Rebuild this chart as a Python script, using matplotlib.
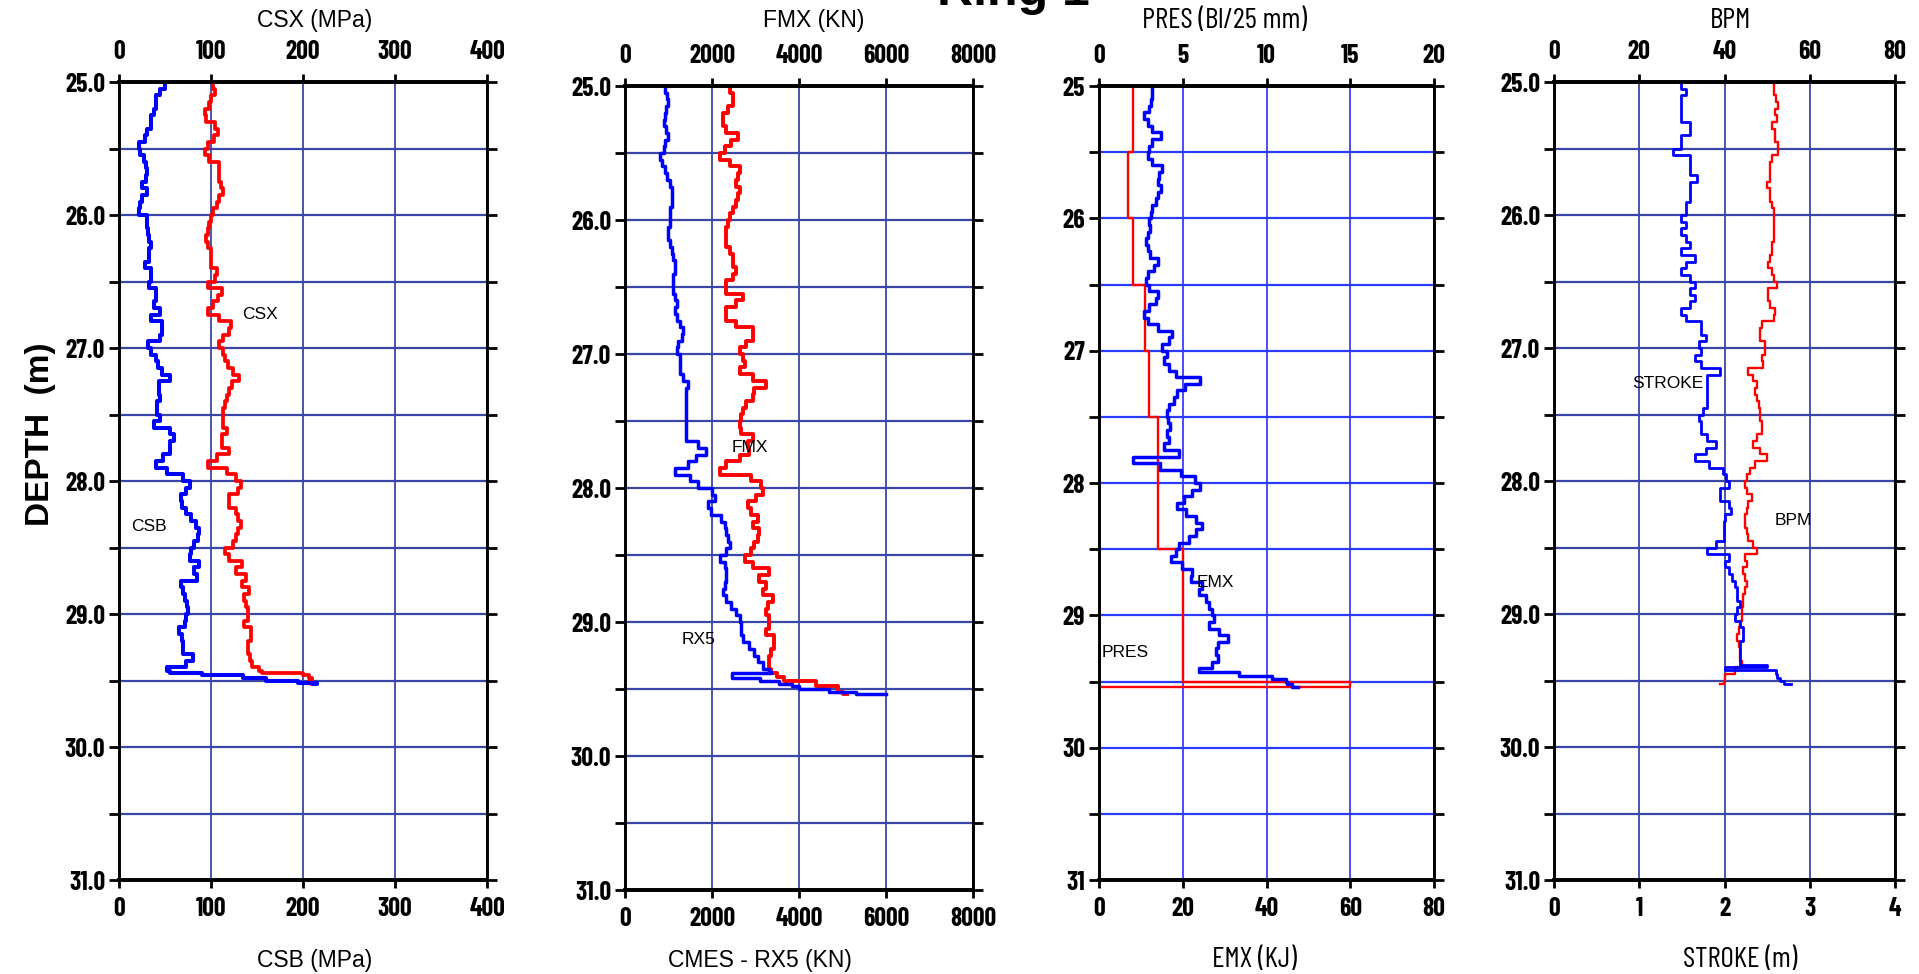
import matplotlib
matplotlib.use("Agg")
import matplotlib.pyplot as plt
from matplotlib import font_manager as fm
import numpy as np

# ---------------- data ----------------
DEPTH_REG = [25.00, 25.05, 25.10, 25.15, 25.20, 25.25, 25.30, 25.35, 25.40, 25.45,
             25.50, 25.55, 25.60, 25.65, 25.70, 25.75, 25.80, 25.85, 25.90, 25.95,
             26.00, 26.05, 26.10, 26.15, 26.20, 26.25, 26.30, 26.35, 26.40, 26.45,
             26.50, 26.55, 26.60, 26.65, 26.70, 26.75, 26.80, 26.85, 26.90, 26.95,
             27.00, 27.05, 27.10, 27.15, 27.20, 27.25, 27.30, 27.35, 27.40, 27.45,
             27.50, 27.55, 27.60, 27.65, 27.70, 27.75, 27.80, 27.85, 27.90, 27.95,
             28.00, 28.05, 28.10, 28.15, 28.20, 28.25, 28.30, 28.35, 28.40, 28.45,
             28.50, 28.55, 28.60, 28.65, 28.70, 28.75, 28.80, 28.85, 28.90, 28.95,
             29.00, 29.05, 29.10, 29.15, 29.20, 29.25, 29.30, 29.35]

# Panel 1: CSB (blue, bottom axis) and CSX (red, top axis), MPa
CSB = [50, 45, 40, 40, 38, 35, 35, 30, 28, 22,
       23, 27, 29, 30, 29, 25, 30, 25, 23, 22,
       30, 30, 32, 33, 35, 33, 33, 28, 35, 35,
       33, 40, 40, 38, 45, 35, 47, 47, 45, 32,
       35, 40, 42, 47, 55, 43, 43, 45, 41, 41,
       45, 38, 55, 60, 55, 55, 48, 40, 52, 70,
       77, 73, 67, 68, 73, 78, 84, 87, 86, 81,
       78, 77, 87, 81, 85, 67, 70, 72, 74, 75,
       73, 72, 65, 68, 70, 70, 80, 73]
CSB_TAIL_D = [29.40, 29.43, 29.44, 29.46, 29.48, 29.50, 29.52, 29.53]
CSB_TAIL = [52, 55, 90, 135, 160, 195, 215, 212]

CSX = [102, 104, 100, 98, 93, 95, 104, 108, 103, 97,
       93, 98, 109, 109, 109, 111, 113, 109, 106, 102,
       100, 98, 97, 95, 97, 100, 100, 100, 106, 104,
       97, 112, 108, 102, 97, 109, 122, 120, 113, 109,
       113, 115, 118, 124, 130, 123, 120, 117, 115, 113,
       113, 113, 117, 112, 112, 120, 106, 97, 117, 127,
       133, 129, 120, 120, 127, 129, 133, 129, 127, 124,
       115, 120, 134, 127, 138, 134, 141, 136, 138, 140,
       140, 136, 143, 143, 140, 140, 142, 145]
CSX_TAIL_D = [29.40, 29.43, 29.44, 29.46, 29.48, 29.50, 29.52, 29.53]
CSX_TAIL = [152, 155, 200, 206, 210, 206, 213, 210]

# Panel 2: RX5 (blue, bottom axis) and FMX (red, top axis), KN
RX5 = [930, 955, 990, 940, 915, 890, 940, 990, 915, 890,
       800, 840, 915, 955, 1030, 1070, 1070, 1070, 1045, 1030,
       1030, 990, 990, 1030, 1070, 1110, 1145, 1145, 1110, 1110,
       1110, 1145, 1185, 1145, 1185, 1260, 1335, 1300, 1220, 1185,
       1260, 1260, 1275, 1335, 1450, 1410, 1395, 1410, 1410, 1395,
       1395, 1395, 1410, 1680, 1870, 1640, 1450, 1145, 1490, 1680,
       2000, 2060, 1910, 1985, 2215, 2290, 2330, 2365, 2405, 2330,
       2175, 2290, 2330, 2330, 2290, 2250, 2330, 2445, 2560, 2635,
       2675, 2675, 2710, 2860, 2975, 3055, 3170, 3320]
RX5_TAIL_D = [29.37, 29.38, 29.40, 29.42, 29.44, 29.46, 29.48, 29.50, 29.52, 29.54]
RX5_TAIL = [3350, 2450, 2450, 3100, 3550, 3850, 4000, 4700, 5300, 6000]

FMX = [2405, 2480, 2480, 2365, 2250, 2250, 2330, 2595, 2445, 2290,
       2175, 2405, 2635, 2595, 2560, 2635, 2595, 2560, 2480, 2405,
       2365, 2330, 2330, 2330, 2405, 2480, 2480, 2560, 2480, 2330,
       2330, 2710, 2560, 2330, 2330, 2560, 2940, 2940, 2785, 2635,
       2710, 2750, 2635, 2940, 3245, 2975, 2940, 2785, 2710, 2675,
       2635, 2675, 2940, 2825, 2860, 2635, 2330, 2175, 2900, 3130,
       3170, 3015, 2825, 2900, 3055, 2940, 3090, 3055, 2975, 2900,
       2750, 2940, 3320, 3090, 3245, 3170, 3400, 3285, 3245, 3320,
       3320, 3245, 3435, 3435, 3360, 3320, 3305, 3360]
FMX_TAIL_D = [29.38, 29.41, 29.44, 29.48, 29.52, 29.54]
FMX_TAIL = [3500, 3650, 4400, 4900, 5000, 5100]

# Panel 3: EMX (blue, bottom axis, KJ) and PRES (red, top axis, Bl/25 mm)
EMX = [12.7, 12.7, 12.4, 12.0, 10.8, 11.6, 12.7, 14.7, 12.7, 12.0,
       11.6, 12.7, 15.1, 14.3, 14.0, 14.7, 14.0, 13.5, 12.7, 12.4,
       12.0, 12.2, 11.8, 11.2, 11.6, 12.2, 14.0, 13.2, 11.6, 11.2,
       12.0, 14.0, 13.6, 12.0, 10.8, 11.6, 14.0, 17.5, 16.7, 15.1,
       16.3, 15.5, 16.7, 18.5, 24.0, 20.5, 18.7, 17.9, 16.7, 16.3,
       16.5, 17.0, 16.3, 16.7, 15.5, 19.0, 8.0, 14.5, 19.5, 23.0,
       24.0, 22.3, 20.3, 18.7, 20.7, 23.1, 24.7, 23.1, 21.5, 19.1,
       18.3, 17.1, 19.9, 22.3, 21.9, 24.7, 23.9, 25.5, 26.3, 27.1,
       27.5, 26.3, 28.7, 30.7, 28.3, 27.9, 28.3, 27.1]
EMX_TAIL_D = [29.40, 29.43, 29.46, 29.48, 29.50, 29.52, 29.54]
EMX_TAIL = [23.9, 33.5, 41.4, 44.6, 45.0, 46.0, 47.5]

PRES_D = [25.0, 25.5, 26.0, 26.5, 27.0, 27.5, 28.5, 29.5, 29.54]
PRES = [2.0, 1.75, 2.0, 2.75, 3.0, 3.5, 5.0, 15.0, 0.0]

# Panel 4: STROKE (blue, bottom axis, m) and BPM (red, top axis)
STROKE = [1.49, 1.55, 1.49, 1.49, 1.49, 1.49, 1.60, 1.60, 1.49, 1.49,
          1.40, 1.60, 1.60, 1.60, 1.68, 1.60, 1.60, 1.60, 1.55, 1.55,
          1.49, 1.55, 1.49, 1.55, 1.60, 1.49, 1.65, 1.55, 1.49, 1.60,
          1.65, 1.60, 1.65, 1.60, 1.49, 1.55, 1.72, 1.72, 1.78, 1.70,
          1.72, 1.65, 1.72, 1.95, 1.80, 1.80, 1.80, 1.80, 1.80, 1.75,
          1.70, 1.72, 1.72, 1.80, 1.90, 1.78, 1.65, 1.82, 1.98, 2.02,
          2.05, 1.95, 1.95, 2.05, 2.08, 2.00, 1.99, 1.99, 1.99, 1.90,
          1.80, 2.05, 2.00, 2.05, 2.09, 2.12, 2.15, 2.15, 2.18, 2.15,
          2.12, 2.18, 2.22, 2.22, 2.18, 2.18, 2.18, 2.18]
STROKE_TAIL_D = [29.38, 29.40, 29.42, 29.45, 29.48, 29.50, 29.53]
STROKE_TAIL = [2.50, 2.00, 2.60, 2.62, 2.65, 2.70, 2.78]

BPM = [51.5, 51.5, 52.0, 52.6, 51.9, 52.3, 51.1, 51.9, 51.9, 52.6,
       52.6, 51.1, 50.7, 50.7, 50.7, 49.9, 50.7, 50.7, 51.1, 51.5,
       51.5, 51.5, 51.5, 51.5, 51.1, 51.1, 50.7, 50.3, 51.1, 51.5,
       52.3, 50.3, 50.3, 50.7, 51.9, 51.5, 48.7, 48.4, 48.4, 49.5,
       49.5, 48.7, 49.1, 45.6, 46.8, 47.6, 47.2, 47.6, 48.0, 48.4,
       48.4, 48.7, 48.7, 47.6, 46.8, 48.4, 49.9, 47.2, 46.0, 45.2,
       44.8, 45.2, 46.4, 45.6, 45.2, 44.8, 44.8, 45.2, 45.6, 46.8,
       47.6, 44.8, 45.2, 44.4, 44.8, 45.2, 44.8, 44.4, 44.4, 44.1,
       44.1, 43.7, 43.3, 42.9, 43.3, 43.7, 43.7, 44.1]
BPM_TAIL_D = [29.40, 29.45, 29.50, 29.53]
BPM_TAIL = [42.5, 40.2, 39.8, 39.0]

DEPTH_TICKS = [25, 26, 27, 28, 29, 30, 31]
DEPTH_MINOR = [25.5, 26.5, 27.5, 28.5, 29.5, 30.5]

# ---------------- fonts ----------------
TTF = fm.fontManager.ttflist
names = {f.name for f in TTF}
ARIAL = 'Liberation Sans' if 'Liberation Sans' in names else 'DejaVu Sans'
plt.rcParams['font.family'] = [ARIAL, 'DejaVu Sans']


def _wnum(w):
    if isinstance(w, (int, float)):
        return w
    return {'bold': 700, 'normal': 400, 'regular': 400}.get(str(w).lower(), 400)


NARROW_PREF = ['Liberation Sans Narrow', 'Arial Narrow', 'Barlow Condensed',
               'Fira Sans Condensed', 'Encode Sans Condensed', 'Asap Condensed',
               'Roboto Condensed', 'PT Sans Narrow', 'Archivo Narrow',
               'IBM Plex Sans Condensed', 'Open Sans Condensed']


def pick_file(weight, min_w=None):
    for nm in NARROW_PREF:
        ents = [f for f in TTF if f.name == nm and f.style == 'normal'
                and '[' not in f.fname.split('/')[-1]]
        if min_w is not None:
            ents = [f for f in ents if _wnum(f.weight) >= min_w]
        if ents:
            ents.sort(key=lambda f: abs(_wnum(f.weight) - weight))
            return ents[0].fname
    return None


BOLD_NARROW = pick_file(700, min_w=600)
REG_NARROW = pick_file(400)

W, H = 1919, 974
fig = plt.figure(figsize=(W / 100, H / 100), dpi=100)
renderer = fig.canvas.get_renderer()


def fitted_fp(sample, target_w, max_size, fname, fallback_weight):
    if fname:
        fp = fm.FontProperties(fname=fname, size=max_size)
    else:
        fp = fm.FontProperties(family=ARIAL, weight=fallback_weight, size=max_size)
    t = fig.text(0, 0, sample, fontproperties=fp)
    w = t.get_window_extent(renderer).width
    t.remove()
    size = min(max_size, max_size * target_w / w) if w > 0 else max_size * 0.75
    fp = fp.copy()
    fp.set_size(size)
    return fp


TICK_FP = fitted_fp('25.0', 40.0, 20.5, BOLD_NARROW, 'bold')


def box(x0, x1, y0, y1):
    return [x0 / W, 1 - y1 / H, (x1 - x0) / W, (y1 - y0) / H]


panels = [
    dict(box=box(119, 487, 82, 880), bmax=400, bticks=[0, 100, 200, 300, 400],
         tmax=400, tticks=[0, 100, 200, 300, 400],
         blue=(CSB, CSB_TAIL_D, CSB_TAIL), red=(CSX, CSX_TAIL_D, CSX_TAIL),
         yfmt='{:.1f}', grid='#1c2590', hgrid='#3a45a8', blw=2.9, rlw=2.7,
         toplabel='CSX (MPa)', botlabel='CSB (MPa)', tx=315, bx=315,
         tw=116, bw=116, narrow=False),
    dict(box=box(625, 973, 86, 890), bmax=8000, bticks=[0, 2000, 4000, 6000, 8000],
         tmax=8000, tticks=[0, 2000, 4000, 6000, 8000],
         blue=(RX5, RX5_TAIL_D, RX5_TAIL), red=(FMX, FMX_TAIL_D, FMX_TAIL),
         yfmt='{:.1f}', grid='#1c2590', hgrid='#3a45a8', blw=2.5, rlw=2.8,
         toplabel='FMX (KN)', botlabel='CMES - RX5 (KN)', tx=814, bx=760,
         tw=104, bw=186, narrow=False),
    dict(box=box(1099, 1434, 86, 880), bmax=80, bticks=[0, 20, 40, 60, 80],
         tmax=20, tticks=[0, 5, 10, 15, 20],
         blue=(EMX, EMX_TAIL_D, EMX_TAIL), red=None,
         yfmt='{:.0f}', grid='#1a1aff', hgrid='#2b3cff', blw=2.5, rlw=1.7,
         toplabel='PRES (Bl/25 mm)', botlabel='EMX (KJ)', tx=1225, bx=1254,
         tw=181, bw=98, narrow=True),
    dict(box=box(1554, 1895, 82, 880), bmax=4, bticks=[0, 1, 2, 3, 4],
         tmax=80, tticks=[0, 20, 40, 60, 80],
         blue=(STROKE, STROKE_TAIL_D, STROKE_TAIL), red=(BPM, BPM_TAIL_D, BPM_TAIL),
         yfmt='{:.1f}', grid='#1c2590', hgrid='#3a45a8', blw=2.0, rlw=1.7,
         toplabel='BPM', botlabel='STROKE (m)', tx=1730, bx=1740,
         tw=48, bw=136, narrow=True),
]

axes = []
for i, p in enumerate(panels):
    ax = fig.add_axes(p['box'])
    ax.set_ylim(31, 25)
    ax.set_xlim(0, p['bmax'])
    ax.set_xticks(p['bticks'])
    ax.set_xticklabels([str(t) for t in p['bticks']])
    ax.set_yticks(DEPTH_TICKS)
    ax.set_yticklabels([p['yfmt'].format(t) for t in DEPTH_TICKS])
    ax.set_yticks(DEPTH_MINOR, minor=True)
    ax.tick_params(axis='y', which='both', left=True, right=True, direction='out',
                   length=7, width=2, pad=3, labelright=False)
    ax.tick_params(axis='x', which='both', bottom=True, top=False, direction='out',
                   length=6, width=2, pad=6)
    ax.grid(axis='y', which='both', color=p['hgrid'], lw=1.6)
    ax.grid(axis='x', which='major', color=p['grid'], lw=1.1)
    ax.set_axisbelow(True)

    axt = ax.twiny()
    axt.set_xlim(0, p['tmax'])
    axt.set_xticks(p['tticks'])
    axt.set_xticklabels([str(t) for t in p['tticks']])
    axt.tick_params(axis='x', top=True, direction='out', length=6, width=2, pad=7)

    for a in (ax, axt):
        for s in ('top', 'bottom'):
            a.spines[s].set_linewidth(2.6)
        for s in ('left', 'right'):
            a.spines[s].set_linewidth(1.9)
    for lab in ax.get_xticklabels() + ax.get_yticklabels() + axt.get_xticklabels():
        lab.set_fontproperties(TICK_FP)

    # red series drawn on the main axes using the top-axis scale
    if i == 2:
        ax.plot(PRES, PRES_D, color='#ff0000', lw=p['rlw'], drawstyle='steps-pre',
                transform=axt.transData, zorder=3)
    else:
        vals, td, tv = p['red']
        ax.plot(list(vals) + tv, DEPTH_REG + td, color='#ff0000', lw=p['rlw'],
                drawstyle='steps-pre', transform=axt.transData, zorder=3)
    vals, td, tv = p['blue']
    ax.plot(list(vals) + tv, DEPTH_REG + td, color='#0000ff', lw=p['blw'],
            drawstyle='steps-pre', zorder=4)

    # axis titles
    if p['narrow'] and REG_NARROW:
        fpt = fitted_fp(p['toplabel'], p['tw'], 21, REG_NARROW, 'normal')
        fpb = fitted_fp(p['botlabel'], p['bw'], 21, REG_NARROW, 'normal')
        fig.text(p['tx'] / W, 1 - 21 / H, p['toplabel'], ha='center', va='center',
                 fontproperties=fpt)
        fig.text(p['bx'] / W, 1 - 960 / H, p['botlabel'], ha='center', va='center',
                 fontproperties=fpb)
    else:
        fig.text(p['tx'] / W, 1 - 21 / H, p['toplabel'], ha='center', va='center',
                 fontsize=16.5)
        fig.text(p['bx'] / W, 1 - 960 / H, p['botlabel'], ha='center', va='center',
                 fontsize=16.5)
    axes.append(ax)

# in-plot labels
ax1, ax2, ax3, ax4 = axes
ax1.text(134, 26.75, 'CSX', fontsize=12.5, ha='left', va='center', zorder=5)
ax1.text(13, 28.34, 'CSB', fontsize=12.5, ha='left', va='center', zorder=5)
ax2.text(2440, 27.70, 'FMX', fontsize=12.5, ha='left', va='center', zorder=5)
ax2.text(1300, 29.13, 'RX5', fontsize=12.5, ha='left', va='center', zorder=5)
ax3.text(23.3, 28.75, 'EMX', fontsize=12.5, ha='left', va='center', zorder=5)
ax3.text(0.6, 29.28, 'PRES', fontsize=12.5, ha='left', va='center', zorder=5)
ax4.text(0.92, 27.27, 'STROKE', fontsize=12.5, ha='left', va='center', zorder=5)
ax4.text(2.59, 28.30, 'BPM', fontsize=12.5, ha='left', va='center', zorder=5)

fig.text(40 / W, 0.554, 'DEPTH  (m)', rotation=90, ha='center', va='center',
         fontsize=24, fontweight='bold')
fig.text(1013 / W, 1 - 5 / H, 'Ring 1', ha='center', va='baseline',
         fontsize=36, fontweight='bold')

fig.savefig('out.png', dpi=100)
